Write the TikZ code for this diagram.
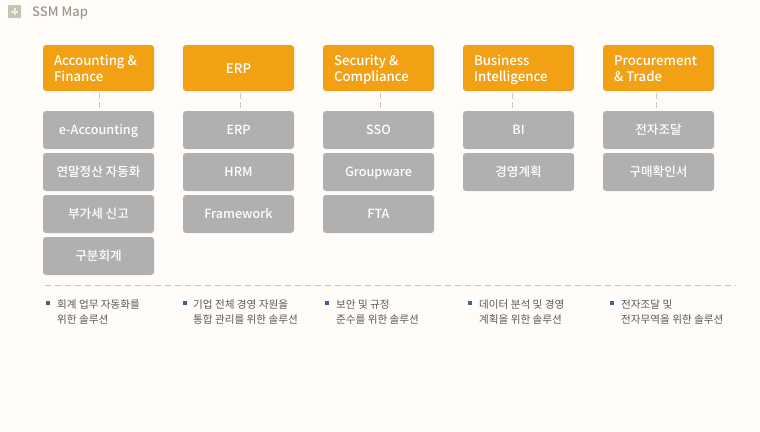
\documentclass[tikz,border=0pt]{standalone}
\usepackage{fontspec}
\setmainfont{Noto Sans CJK KR}
\newfontfamily\krmed{Noto Sans CJK KR Medium}
\definecolor{bg}{HTML}{FFFCF9}
\definecolor{orangeb}{HTML}{F2A114}
\definecolor{grayb}{HTML}{B0B0B0}
\definecolor{dashc}{HTML}{BFC4D2}
\definecolor{conn}{HTML}{C8C8C8}
\definecolor{notec}{HTML}{5A5A5A}
\definecolor{bull}{HTML}{3A6690}
\definecolor{titlec}{HTML}{9A9A8C}
\definecolor{iconc}{HTML}{C4C4B2}
\definecolor{iconp}{HTML}{EDEDE4}
\tikzset{
 x=1pt,y=-1pt,
 head/.style={fill=orangeb,rounded corners=3pt,minimum width=111pt,minimum height=46pt,inner sep=0pt,text=white,text height=10.5pt,text depth=0.5pt,font=\krmed\fontsize{13.2}{16}\selectfont},
 headtext/.style={anchor=base west,inner sep=0pt,text=white,font=\krmed\fontsize{13.2}{16}\selectfont},
 sub/.style={fill=grayb,rounded corners=3pt,minimum width=111pt,minimum height=38pt,inner sep=0pt,text=white,text height=9.5pt,text depth=0.5pt,font=\krmed\fontsize{12.6}{14}\selectfont},
 link/.style={draw=conn,line width=1pt,dash pattern=on 6pt off 3pt},
 note/.style={anchor=north west,align=left,inner sep=0pt,text=notec,font=\fontsize{10.6}{15}\selectfont},
 bulletm/.style={fill=bull,minimum size=4pt,inner sep=0pt},
}
\begin{document}
\begin{tikzpicture}
\useasboundingbox[fill=bg] (0,0) rectangle (760,431);
% title
\node[fill=iconc,rounded corners=1pt,minimum size=13pt,inner sep=0pt] (icon) at (14.5,11.5) {};
\node[fill=iconp,minimum width=7pt,minimum height=2pt,inner sep=0pt] (iconh) at (icon.center) {};
\node[fill=iconp,minimum width=2pt,minimum height=7pt,inner sep=0pt] (iconv) at (icon.center) {};
\node[anchor=west,inner sep=0pt,text=titlec,font=\krmed\fontsize{13}{15}\selectfont] (title) at (32,13.5) {SSM Map};
% headings
\node[head] (h1) at (98.5,68) {};
\node[head] (h2) at (238.5,68) {ERP};
\node[head] (h3) at (378.5,68) {};
\node[head] (h4) at (518.5,68) {};
\node[head] (h5) at (658.5,68) {};
\foreach \n/\la/\lb in {h1/Accounting \&/Finance,h3/Security \&/Compliance,h4/Business/Intelligence,h5/Procurement/\& Trade}{
  \node[headtext] at ([xshift=11pt,yshift=3pt]\n.west) {\la};
  \node[headtext] at ([xshift=11pt,yshift=-13pt]\n.west) {\lb};
}
% column 1
\node[sub] (a1) at (98.5,130) {e-Accounting};
\node[sub] (a2) at (98.5,172) {연말정산 자동화};
\node[sub] (a3) at (98.5,214) {부가세 신고};
\node[sub] (a4) at (98.5,256) {구분회계};
% column 2
\node[sub] (b1) at (238.5,130) {ERP};
\node[sub] (b2) at (238.5,172) {HRM};
\node[sub] (b3) at (238.5,214) {Framework};
% column 3
\node[sub] (c1) at (378.5,130) {SSO};
\node[sub] (c2) at (378.5,172) {Groupware};
\node[sub] (c3) at (378.5,214) {FTA};
% column 4
\node[sub] (d1) at (518.5,130) {BI};
\node[sub] (d2) at (518.5,172) {경영계획};
% column 5
\node[sub] (e1) at (658.5,130) {전자조달};
\node[sub] (e2) at (658.5,172) {구매확인서};
% connectors
\foreach \p/\q/\dx in {h1/a1/0.5,h2/b1/1.5,h3/c1/1.5,h4/d1/-6.5,h5/e1/-2.5}{
  \draw[link] ([xshift=\dx pt,yshift=-2pt]\p.south) -- ([xshift=\dx pt,yshift=3pt]\q.north);
}
% separator
\coordinate (sl) at (45,285.5);
\coordinate (sr) at (736,285.5);
\draw[dashc,line width=1.3pt,dash pattern=on 6pt off 4pt] (sl) -- (sr);
% notes
\node[bulletm] (n1b) at (48,302.5) {};
\node[note] (n1) at (57,299.5) {회계 업무 자동화를\\위한 솔루션};
\node[bulletm] (n2b) at (185,302.5) {};
\node[note] (n2) at (193,299.5) {기업 전체 경영 자원을\\통합 관리를 위한 솔루션};
\node[bulletm] (n3b) at (327,302.5) {};
\node[note] (n3) at (336,299.5) {보안 및 규정\\준수를 위한 솔루션};
\node[bulletm] (n4b) at (470,302.5) {};
\node[note] (n4) at (479,299.5) {데이터 분석 및 경영\\계획을 위한 솔루션};
\node[bulletm] (n5b) at (612,302.5) {};
\node[note] (n5) at (621,299.5) {전자조달 및\\전자무역을 위한 솔루션};
\end{tikzpicture}
\end{document}
